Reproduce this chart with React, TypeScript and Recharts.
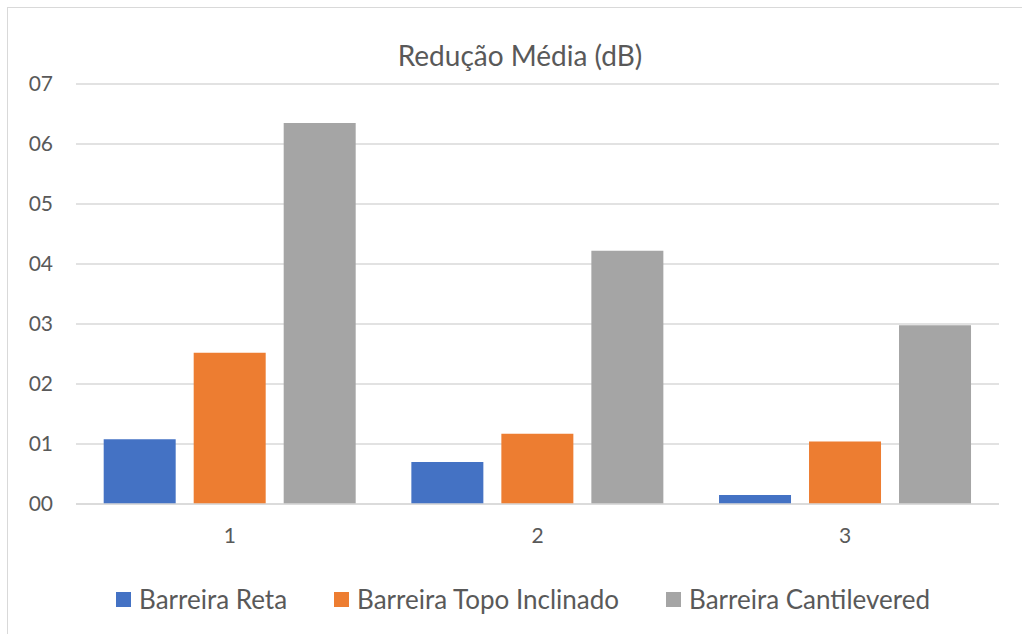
import { Bar, BarChart, CartesianGrid, XAxis, YAxis } from "recharts";

const categories = ["1", "2", "3"];
const barreiraReta = [1.08, 0.7, 0.15];
const barreiraTopoInclinado = [2.52, 1.17, 1.04];
const barreiraCantilevered = [6.35, 4.22, 2.98];
const yTicks = [0, 1, 2, 3, 4, 5, 6, 7];

const series = [
  { key: "reta", name: "Barreira Reta", color: "#4472C4", values: barreiraReta },
  { key: "topo", name: "Barreira Topo Inclinado", color: "#ED7D31", values: barreiraTopoInclinado },
  { key: "cant", name: "Barreira Cantilevered", color: "#A5A5A5", values: barreiraCantilevered },
];

const data = categories.map((c, i) => {
  const row: Record<string, string | number> = { cat: c };
  for (const s of series) row[s.key] = s.values[i];
  return row;
});

const FONT = "Lato, 'Open Sans', sans-serif";
const TEXT = "#595959";

function ChartLegend() {
  return (
    <div
      style={{
        position: "absolute",
        left: 0,
        top: 583,
        width: 1046,
        display: "flex",
        justifyContent: "center",
        gap: 47,
        fontFamily: FONT,
        fontSize: 26,
        lineHeight: "32px",
        color: TEXT,
      }}
    >
      {series.map((s) => (
        <div key={s.key} style={{ display: "flex", alignItems: "center" }}>
          <span style={{ width: 15, height: 15, background: s.color, display: "inline-block", marginRight: 8 }} />
          <span>{s.name}</span>
        </div>
      ))}
    </div>
  );
}

export default function App() {
  return (
    <div style={{ position: "absolute", left: 0, top: 0, width: 1022, height: 634, background: "#fff", overflow: "hidden" }}>
      <div
        style={{
          position: "absolute",
          left: 7,
          top: 7,
          width: 1030,
          height: 640,
          border: "1.5px solid #D9D9D9",
          boxSizing: "border-box",
        }}
      />
      <div
        style={{
          position: "absolute",
          left: 7,
          top: 37,
          width: 1026,
          textAlign: "center",
          fontFamily: FONT,
          fontSize: 28,
          lineHeight: "36px",
          color: TEXT,
        }}
      >
        Redução Média (dB)
      </div>
      <div style={{ position: "absolute", left: 0, top: 0 }}>
        <BarChart
          width={1022}
          height={634}
          data={data}
          margin={{ top: 84, right: 23, bottom: 0, left: 0 }}
          barCategoryGap="9%"
          barGap={18}
        >
          <CartesianGrid vertical={false} stroke="#D9D9D9" strokeWidth={1.5} />
          <XAxis
            dataKey="cat"
            axisLine={{ stroke: "#D9D9D9", strokeWidth: 1.5 }}
            tickLine={false}
            tickSize={0}
            tickMargin={24}
            tick={{ fill: TEXT, fontSize: 21, fontFamily: FONT }}
            height={130}
          />
          <YAxis
            width={76}
            domain={[0, 7]}
            ticks={yTicks}
            axisLine={false}
            tickLine={false}
            tickSize={0}
            tickMargin={23}
            tickFormatter={(v: number) => "0" + v}
            tick={{ fill: TEXT, fontSize: 21, fontFamily: FONT }}
          />
          {series.map((s) => (
            <Bar key={s.key} dataKey={s.key} name={s.name} fill={s.color} isAnimationActive={false} />
          ))}
        </BarChart>
      </div>
      <ChartLegend />
    </div>
  );
}
